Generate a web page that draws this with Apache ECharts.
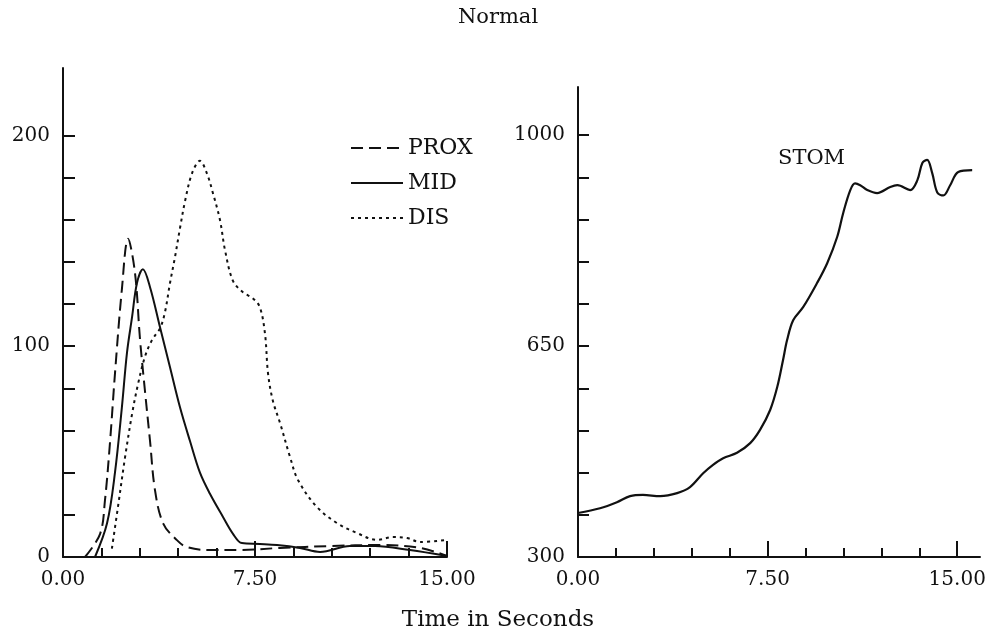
<!DOCTYPE html>
<html>
<head>
<meta charset="utf-8">
<script src="https://cdn.jsdelivr.net/npm/echarts@6/dist/echarts.min.js"></script>
<style>
  html, body { margin: 0; padding: 0; background: #fff; }
  #chart { width: 996px; height: 633px; }
</style>
</head>
<body>
<div id="chart"></div>
<script>
// time in seconds / value pairs
var proxTime  = [0.86, 1.45, 1.64, 1.84, 2.03, 2.30, 2.54, 2.81, 3.01, 3.20, 3.40, 3.59, 3.91, 4.45, 4.84, 5.74, 6.91, 8.48, 10.43, 12.38, 13.95, 15.0];
var proxValue = [0, 11, 27, 55, 87, 127, 151, 135, 103, 79, 55, 32, 16, 8, 4.7, 3.3, 3.3, 4.3, 5.2, 5.7, 4.3, 0.5];

var midTime  = [1.25, 1.72, 2.03, 2.30, 2.50, 2.70, 2.89, 3.12, 3.40, 3.79, 4.18, 4.57, 4.96, 5.35, 5.74, 6.25, 6.64, 6.99, 7.69, 8.36, 9.26, 10.04, 11.21, 12.19, 13.55, 15.0];
var midValue = [0, 16, 40, 71, 97, 114, 130, 136.5, 128, 109, 90, 71, 55, 40, 30, 19, 11, 6.6, 6.2, 5.7, 4.3, 2.4, 5.2, 5.2, 3.3, 0.5];

var disTime  = [1.91, 2.15, 2.42, 2.70, 2.93, 3.20, 3.48, 3.79, 3.98, 4.18, 4.37, 4.57, 4.77, 5.04, 5.35, 5.62, 5.86, 6.13, 6.33, 6.64, 7.03, 7.42, 7.69, 7.89, 8.01, 8.20, 8.48, 8.87, 9.18, 9.92, 10.70, 11.48, 12.27, 12.89, 13.44, 13.95, 15.0];
var disValue = [4, 24, 47, 68, 82, 95, 103, 108.5, 116, 130, 142, 156, 169, 182, 188, 182, 172.5, 160, 145.5, 131, 125.6, 122.7, 118.5, 106, 87, 74, 63.5, 47.4, 36.5, 23.7, 16.1, 11.4, 8.1, 9.5, 9, 7.1, 8.1];

// right panel
var stomTime  = [0, 0.87, 1.54, 2.06, 2.57, 3.25, 3.92, 4.43, 4.95, 5.34, 5.74, 6.29, 6.81, 7.20, 7.60, 7.88, 8.11, 8.27, 8.51, 8.91, 9.46, 9.86, 10.25, 10.49, 10.77, 10.96, 11.16, 11.44, 11.83, 12.35, 12.63, 13.14, 13.42, 13.62, 13.81, 14.01, 14.21, 14.45, 14.72, 15.04, 15.59];
var stomValue = [373, 381, 391, 401, 403, 401, 406, 416, 439, 453, 464, 473, 489, 511, 544, 582, 627, 660, 693, 715, 755, 788, 831, 871, 909, 920, 917, 909, 904, 914, 917, 909, 925, 954, 959, 937, 905, 900, 917, 939, 942];

var timeTicks = [0, 1.5, 3, 4.5, 6, 7.5, 9, 10.5, 12, 13.5, 15];
var timeLabels = [0, 7.5, 15];
var leftTicks = [0, 20, 40, 60, 80, 100, 120, 140, 160, 180, 200];
var leftLabels = [0, 100, 200];
var rightTicks = [300, 370, 440, 510, 580, 650, 720, 790, 860, 930, 1000];
var rightLabels = [300, 650, 1000];

function pairs(t, v) {
    return t.map(function (x, i) { return [x, v[i]]; });
}

var FONT = 'DejaVu Serif';
var ink = '#111';

function xAxisBase(grid, max) {
    return {
        type: 'value', gridIndex: grid, min: 0, max: max, position: 'bottom',
        splitLine: {show: false},
        axisLine: {show: true, lineStyle: {color: ink, width: 2}},
        axisTick: {show: true, inside: true, length: 9, customValues: timeTicks, lineStyle: {color: ink, width: 2}},
        axisLabel: {
            show: true, customValues: timeLabels, margin: 13, color: ink,
            fontFamily: FONT, fontSize: 20,
            formatter: function (v) { return v.toFixed(2); }
        }
    };
}

// taller marks at 7.50 and 15.00
function xAxisLong(grid, max) {
    return {
        type: 'value', gridIndex: grid, min: 0, max: max, position: 'bottom',
        splitLine: {show: false},
        axisLine: {show: false},
        axisLabel: {show: false},
        axisTick: {show: true, inside: true, length: 16, customValues: [7.5, 15], lineStyle: {color: ink, width: 2}}
    };
}

function yAxisBase(grid, min, max, ticks, labels, len) {
    return {
        type: 'value', gridIndex: grid, min: min, max: max,
        splitLine: {show: false},
        axisLine: {show: true, lineStyle: {color: ink, width: 2}},
        axisTick: {show: true, inside: true, length: len, customValues: ticks, lineStyle: {color: ink, width: 2}},
        axisLabel: {
            show: true, customValues: labels, margin: 13, color: ink,
            fontFamily: FONT, fontSize: 20,
            formatter: function (v) { return String(v); }
        }
    };
}

var lineBase = {type: 'line', symbol: 'none', smooth: 0.35, silent: true};

var myChart = echarts.init(document.getElementById('chart'));
var option = {
    backgroundColor: '#fff',
    animation: false,
    title: [
        {text: 'Normal', left: 'center', top: 2,
         textStyle: {fontFamily: FONT, fontSize: 21, fontWeight: 'normal', color: ink}},
        {text: 'Time in Seconds', left: 'center', top: 604,
         textStyle: {fontFamily: FONT, fontSize: 23, fontWeight: 'normal', color: ink}},
        {text: 'STOM', left: 773, top: 143,
         textStyle: {fontFamily: FONT, fontSize: 21, fontWeight: 'normal', color: ink}}
    ],
    legend: {
        data: ['PROX', 'MID', 'DIS'],
        orient: 'vertical',
        left: 345, top: 132,
        itemWidth: 52, itemHeight: 22, itemGap: 13,
        itemStyle: {opacity: 0},
        textStyle: {fontFamily: FONT, fontSize: 22, color: ink, lineHeight: 22}
    },
    grid: [
        {left: 63, top: 68, width: 384, height: 489},
        {left: 578, top: 87, width: 402, height: 470}
    ],
    xAxis: [
        xAxisBase(0, 15), xAxisLong(0, 15),
        xAxisBase(1, 15.9), xAxisLong(1, 15.9)
    ],
    yAxis: [
        yAxisBase(0, 0, 232, leftTicks, leftLabels, 12),
        yAxisBase(1, 300, 1080, rightTicks, rightLabels, 11)
    ],
    series: [
        Object.assign({}, lineBase, {
            name: 'PROX', xAxisIndex: 0, yAxisIndex: 0,
            data: pairs(proxTime, proxValue),
            lineStyle: {color: ink, width: 2, type: [12, 6]}
        }),
        Object.assign({}, lineBase, {
            name: 'MID', xAxisIndex: 0, yAxisIndex: 0,
            data: pairs(midTime, midValue),
            lineStyle: {color: ink, width: 2, type: 'solid'}
        }),
        Object.assign({}, lineBase, {
            name: 'DIS', xAxisIndex: 0, yAxisIndex: 0,
            data: pairs(disTime, disValue),
            lineStyle: {color: ink, width: 2, type: [3, 4]}
        }),
        Object.assign({}, lineBase, {
            name: 'STOM', xAxisIndex: 2, yAxisIndex: 1,
            data: pairs(stomTime, stomValue),
            lineStyle: {color: ink, width: 2.2, type: 'solid'}
        })
    ],
    color: [ink, ink, ink, ink]
};
myChart.setOption(option);
</script>
</body>
</html>
